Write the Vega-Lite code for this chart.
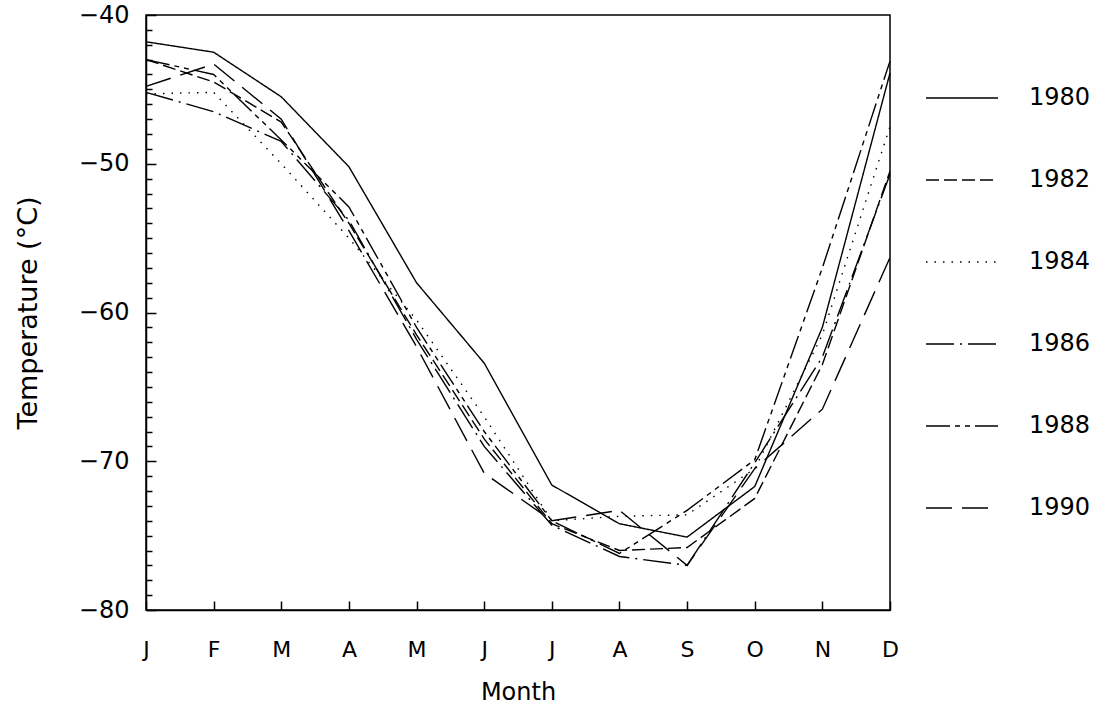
{
  "$schema": "https://vega.github.io/schema/vega-lite/v6.json",
  "width": 744,
  "height": 595,
  "autosize": {"type": "none"},
  "padding": {"left": 146, "top": 15, "right": 204, "bottom": 96},
  "background": "white",
  "config": {
    "view": {"stroke": "black", "strokeWidth": 1.5},
    "font": "DejaVu Sans",
    "axis": {"domainColor": "black", "domainWidth": 1.5, "gridColor": "black", "gridWidth": 1.5, "gridOpacity": 1, "ticks": false, "labelColor": "black", "titleColor": "black", "titleFontWeight": "normal", "labelFont": "DejaVu Sans", "titleFont": "DejaVu Sans"}
  },
  "data": {
    "values": [
      {"year": "1980", "month": 1, "temp": -41.8}, {"year": "1980", "month": 2, "temp": -42.5}, {"year": "1980", "month": 3, "temp": -45.5}, {"year": "1980", "month": 4, "temp": -50.2}, {"year": "1980", "month": 5, "temp": -58.0}, {"year": "1980", "month": 6, "temp": -63.4}, {"year": "1980", "month": 7, "temp": -71.6}, {"year": "1980", "month": 8, "temp": -74.2}, {"year": "1980", "month": 9, "temp": -75.1}, {"year": "1980", "month": 10, "temp": -71.7}, {"year": "1980", "month": 11, "temp": -61.0}, {"year": "1980", "month": 12, "temp": -43.9},
      {"year": "1982", "month": 1, "temp": -43.0}, {"year": "1982", "month": 2, "temp": -44.5}, {"year": "1982", "month": 3, "temp": -47.2}, {"year": "1982", "month": 4, "temp": -54.0}, {"year": "1982", "month": 5, "temp": -61.5}, {"year": "1982", "month": 6, "temp": -68.5}, {"year": "1982", "month": 7, "temp": -74.2}, {"year": "1982", "month": 8, "temp": -76.0}, {"year": "1982", "month": 9, "temp": -75.8}, {"year": "1982", "month": 10, "temp": -72.5}, {"year": "1982", "month": 11, "temp": -63.5}, {"year": "1982", "month": 12, "temp": -50.5},
      {"year": "1984", "month": 1, "temp": -45.3}, {"year": "1984", "month": 2, "temp": -45.2}, {"year": "1984", "month": 3, "temp": -50.0}, {"year": "1984", "month": 4, "temp": -55.0}, {"year": "1984", "month": 5, "temp": -60.5}, {"year": "1984", "month": 6, "temp": -67.0}, {"year": "1984", "month": 7, "temp": -74.0}, {"year": "1984", "month": 8, "temp": -73.7}, {"year": "1984", "month": 9, "temp": -73.6}, {"year": "1984", "month": 10, "temp": -70.5}, {"year": "1984", "month": 11, "temp": -61.5}, {"year": "1984", "month": 12, "temp": -47.5},
      {"year": "1986", "month": 1, "temp": -45.2}, {"year": "1986", "month": 2, "temp": -46.5}, {"year": "1986", "month": 3, "temp": -48.5}, {"year": "1986", "month": 4, "temp": -53.8}, {"year": "1986", "month": 5, "temp": -61.8}, {"year": "1986", "month": 6, "temp": -69.0}, {"year": "1986", "month": 7, "temp": -74.3}, {"year": "1986", "month": 8, "temp": -76.4}, {"year": "1986", "month": 9, "temp": -77.0}, {"year": "1986", "month": 10, "temp": -70.1}, {"year": "1986", "month": 11, "temp": -63.0}, {"year": "1986", "month": 12, "temp": -50.7},
      {"year": "1988", "month": 1, "temp": -43.0}, {"year": "1988", "month": 2, "temp": -44.0}, {"year": "1988", "month": 3, "temp": -48.4}, {"year": "1988", "month": 4, "temp": -52.9}, {"year": "1988", "month": 5, "temp": -61.0}, {"year": "1988", "month": 6, "temp": -68.0}, {"year": "1988", "month": 7, "temp": -74.0}, {"year": "1988", "month": 8, "temp": -76.2}, {"year": "1988", "month": 9, "temp": -73.3}, {"year": "1988", "month": 10, "temp": -69.9}, {"year": "1988", "month": 11, "temp": -57.0}, {"year": "1988", "month": 12, "temp": -43.1},
      {"year": "1990", "month": 1, "temp": -44.8}, {"year": "1990", "month": 2, "temp": -43.3}, {"year": "1990", "month": 3, "temp": -47.0}, {"year": "1990", "month": 4, "temp": -54.5}, {"year": "1990", "month": 5, "temp": -62.3}, {"year": "1990", "month": 6, "temp": -70.8}, {"year": "1990", "month": 7, "temp": -74.0}, {"year": "1990", "month": 8, "temp": -73.3}, {"year": "1990", "month": 9, "temp": -77.0}, {"year": "1990", "month": 10, "temp": -70.5}, {"year": "1990", "month": 11, "temp": -66.5}, {"year": "1990", "month": 12, "temp": -56.3}
    ]
  },
  "mark": {"type": "line", "stroke": "black", "strokeWidth": 1.4, "clip": false},
  "encoding": {
    "x": {
      "field": "month", "type": "quantitative",
      "scale": {"domain": [1, 12], "nice": false, "zero": false},
      "axis": {
        "title": "Month", "values": [1,2,3,4,5,6,7,8,9,10,11,12],
        "labelExpr": "['J','F','M','A','M','J','J','A','S','O','N','D'][datum.value - 1]",
        "grid": true, "gridDash": [0, 586, 9, 40],
        "labelPadding": 29, "labelFontSize": 22, "labelFlush": false, "labelOverlap": false,
        "titleFontSize": 24, "titlePadding": 20
      }
    },
    "y": {
      "field": "temp", "type": "quantitative",
      "scale": {"domain": [-80, -40], "nice": false, "zero": false},
      "axis": {
        "title": "Temperature (°C)",
        "values": [-80,-79,-78,-77,-76,-75,-74,-73,-72,-71,-70,-69,-68,-67,-66,-65,-64,-63,-62,-61,-60,-59,-58,-57,-56,-55,-54,-53,-52,-51,-50,-49,-48,-47,-46,-45,-44,-43,-42,-41,-40],
        "labelExpr": "datum.value % 10 === 0 ? datum.label : ''",
        "grid": true,
        "gridDash": {"condition": {"test": "datum.value % 10 === 0", "value": [10, 2000]}, "value": [6, 2000]},
        "labelPadding": 17, "labelFontSize": 24, "labelFlush": false, "labelOverlap": false,
        "titleFontSize": 27, "titlePadding": 36
      }
    },
    "strokeDash": {
      "field": "year", "type": "nominal",
      "scale": {"domain": ["1980","1982","1984","1986","1988","1990"], "range": [[1,0],[13,5],[1.5,7],[28,6,2,6],[24,5,5,5,5,5],[26,10]]},
      "legend": {
        "title": null, "orient": "none", "legendX": 779, "legendY": 46,
        "symbolType": "stroke", "symbolSize": 5184, "symbolStrokeColor": "black", "symbolStrokeWidth": 1.4,
        "labelFontSize": 24, "labelColor": "black", "labelFont": "DejaVu Sans", "labelOffset": 30, "rowPadding": 33
      }
    }
  }
}
